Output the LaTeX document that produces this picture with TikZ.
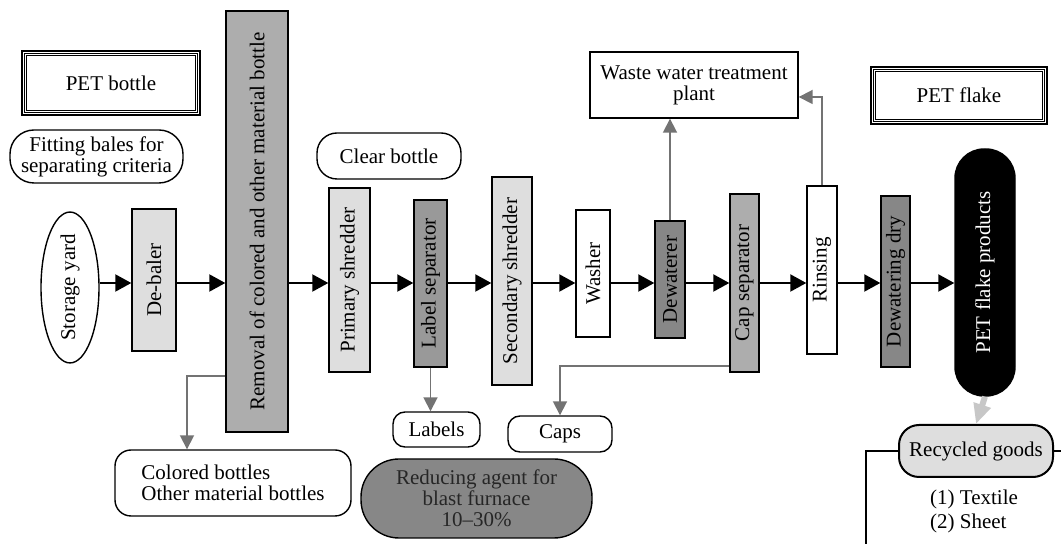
\documentclass[tikz,border=0pt]{standalone}
\usepackage{fontspec}
\setmainfont{Liberation Serif}
\usetikzlibrary{arrows.meta, positioning, calc, shapes}
\definecolor{paleshade}{gray}{0.87}
\definecolor{midshade}{gray}{0.68}
\definecolor{deepshade}{gray}{0.60}
\definecolor{darkshade}{gray}{0.53}
\definecolor{sidegray}{gray}{0.45}
\definecolor{feedgray}{gray}{0.78}

\begin{document}
\begin{tikzpicture}[x=0.5pt, y=-0.5pt, font=\fontsize{10.5}{10.5}\selectfont,
  unit/.style={draw, line width=0.7pt, inner sep=0.5pt},
  tag/.style={draw, line width=0.7pt, align=center, inner sep=1pt},
  headbox/.style={draw, line width=1pt, align=center},
  flow/.style={-{Triangle[length=8pt,width=8.5pt]}, line width=1pt},
  side/.style={-{Triangle[length=7pt,width=7pt]}, line width=0.9pt, sidegray},
  feed/.style={-{Triangle[length=10pt,width=8.5pt]}, line width=3pt, feedgray}]
  \useasboundingbox (0,0) rectangle (1061,544);

  % helper levels
  \coordinate (main) at (0,283);
  \coordinate (rmout) at (0,376);
  \coordinate (drop) at (187,0);
  \coordinate (capout) at (0,366);
  \coordinate (rinout) at (0,97);

  % titles
  \node[headbox, minimum width=89pt, minimum height=32pt] (pb) at (111,83) {PET bottle};
  \node[headbox, minimum width=88pt, minimum height=28.5pt] (pf) at (959,95.5) {PET flake};
  \foreach \n in {pb, pf}
    \foreach \d in {1.6pt, 2.9pt}
      \draw[line width=0.5pt] ([shift={(\d,-\d)}]\n.north west) rectangle ([shift={(-\d,\d)}]\n.south east);

  % main line
  \node[draw, ellipse, line width=0.7pt, inner sep=0pt, minimum width=29pt, minimum height=69.5pt] (storage) at (70,287.5) {\rotatebox{90}{Storage yard}};
  \node[unit, fill=paleshade, minimum width=22pt, minimum height=71pt] (debaler) at (154,280) {\rotatebox{90}{De-baler}};
  \node[unit, fill=midshade, minimum width=31pt, minimum height=210.5pt] (removal) at (257,221.5) {\rotatebox{90}{Removal of colored and other material bottle}};
  \node[unit, fill=paleshade, minimum width=20.5pt, minimum height=92pt] (primary) at (349.5,280) {\rotatebox{90}{Primary shredder}};
  \node[unit, fill=deepshade, minimum width=16.5pt, minimum height=83.5pt] (label) at (430.5,283.5) {\rotatebox{90}{Label separator}};
  \node[unit, fill=paleshade, minimum width=20pt, minimum height=104pt] (secondary) at (512,281) {\rotatebox{90}{Secondary shredder}};
  \node[unit, fill=white, minimum width=17pt, minimum height=63.5pt] (washer) at (593,273.5) {\rotatebox{90}{Washer}};
  \node[unit, fill=darkshade, minimum width=15pt, minimum height=58.5pt] (dewaterer) at (670,279.5) {\rotatebox{90}{Dewaterer}};
  \node[unit, fill=midshade, minimum width=14.5pt, minimum height=89pt] (capsep) at (744.5,283) {\rotatebox{90}{Cap separator}};
  \node[unit, fill=white, minimum width=15pt, minimum height=84pt] (rinsing) at (822,270) {\rotatebox{90}{Rinsing}};
  \node[unit, fill=darkshade, minimum width=14.5pt, minimum height=85.5pt] (dewdry) at (895.5,281.5) {\rotatebox{90}{Dewatering dry}};
  \node[unit, fill=black, text=white, rounded corners=14.5pt, minimum width=30pt, minimum height=123.5pt] (flake) at (985,272.5) {\rotatebox{90}{PET flake products}};

  \foreach \a/\b in {storage/debaler, debaler/removal, removal/primary, primary/label, label/secondary, secondary/washer, washer/dewaterer, dewaterer/capsep, capsep/rinsing, rinsing/dewdry, dewdry/flake}
    \draw[flow] (\a.east |- main) -- (\b.west |- main);

  % notes
  \node[tag, rounded corners=12pt, minimum width=86.5pt, minimum height=26.5pt] (fitting) at (96.5,156.5) {Fitting bales for\\separating criteria};
  \node[tag, rounded corners=10pt, minimum width=72pt, minimum height=23pt] (clear) at (389,156) {Clear bottle};
  \node[draw, line width=0.7pt, rounded corners=8pt, align=left, minimum width=118pt, minimum height=33pt] (colored) at (233,483) {Colored bottles\\Other material bottles};
  \node[tag, rounded corners=6pt, minimum width=43.5pt, minimum height=17.5pt] (labels) at (436.5,429.5) {Labels};
  \node[tag, rounded corners=6pt, minimum width=52pt, minimum height=18pt] (caps) at (560,434) {Caps};
  \node[tag, fill=darkshade, text=black!85, rounded corners=19pt, minimum width=115.5pt, minimum height=39.5pt] (reducing) at (476.5,498.5) {Reducing agent for\\blast furnace\\10--30\%};
  \node[draw, line width=0.7pt, minimum width=104pt, minimum height=33pt, align=center] (waste) at (694,85) {Waste water treatment\\plant};
  \node[tag, line width=1pt, fill=paleshade, rounded corners=10pt, minimum width=77pt, minimum height=26pt] (recycled) at (976,451) {Recycled goods};
  \node[align=left, font=\fontsize{10.5}{12}\selectfont] (uses) at (974,511) {(1) Textile\\(2) Sheet};

  % side streams
  \draw[side] (removal.west |- rmout) -| (colored.north -| drop);
  \draw[side] (label.south) -- (label.south |- labels.north);
  \draw[side] (capsep.west |- capout) -| (caps.north);
  \draw[side] (dewaterer.north) -- (dewaterer.north |- waste.south);
  \draw[side] (rinsing.north) |- (waste.east |- rinout);
  \draw[feed] (flake.south) -- (recycled.north);

  % goods line
  \coordinate (goodsend) at (866,544);
  \coordinate (goodsright) at (1061,451);
  \draw[line width=1pt] (recycled.west) -| (goodsend);
  \draw[line width=1pt] (recycled.east) -- (goodsright);
\end{tikzpicture}
\end{document}
